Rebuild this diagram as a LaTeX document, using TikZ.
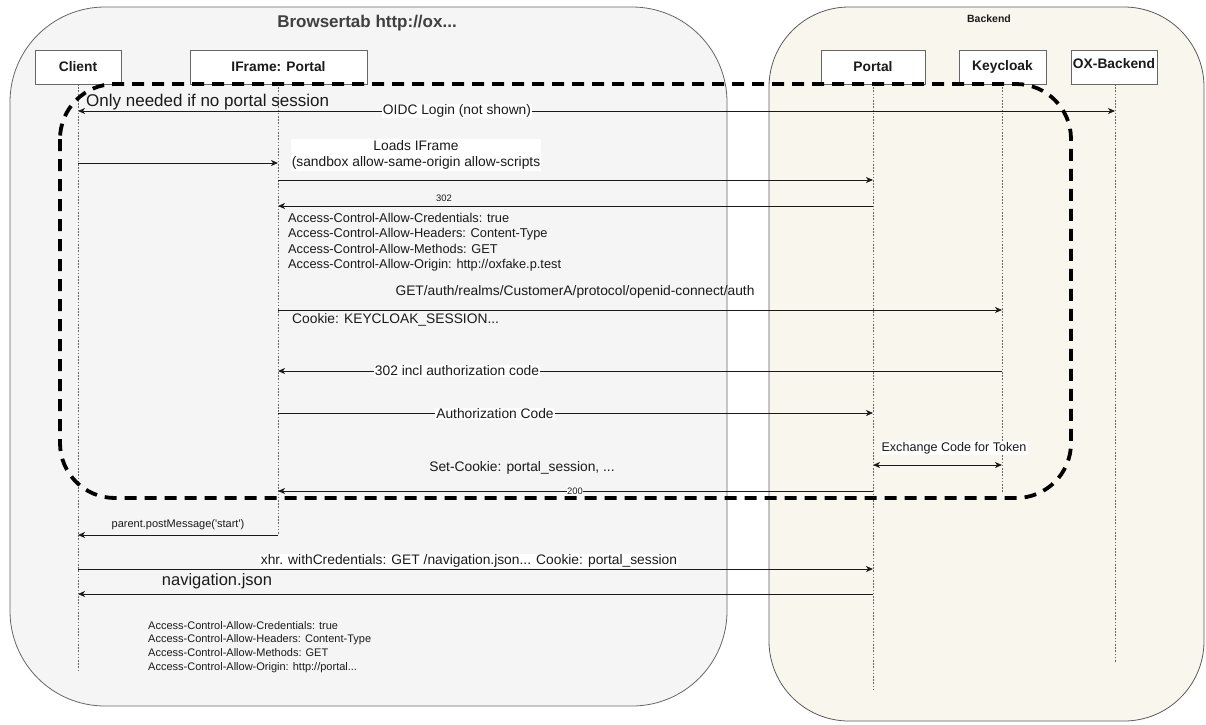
\documentclass[tikz,border=0pt]{standalone}
\usepackage{fontspec}
\setmainfont{Liberation Sans}
\usetikzlibrary{arrows.meta}
\definecolor{tabfill}{HTML}{F5F5F5}
\definecolor{tabline}{HTML}{666666}
\definecolor{bkfill}{HTML}{F9F7ED}
\definecolor{bkline}{HTML}{5A5A5A}
\definecolor{ink}{HTML}{1A1A1A}
\tikzset{
  lifeline/.style={draw=tabline, line width=0.9pt, dash pattern=on 1.6pt off 1.6pt},
  hdr/.style={draw=tabline, fill=white, line width=0.8pt, minimum height=34pt, inner sep=0pt,
    font=\fontsize{13.8}{16}\selectfont\bfseries, text=ink},
  tip/.tip={Stealth[length=7pt,width=6pt,inset=2pt]},
  msg/.style={line width=0.8pt, draw=ink, -tip},
  bimsg/.style={line width=0.8pt, draw=ink, tip-tip},
  lbl/.style={font=\fontsize{13.8}{16.5}\selectfont, inner sep=1pt, text=ink},
  wlbl/.style={lbl, fill=white},
  smalllbl/.style={font=\fontsize{9.4}{11}\selectfont, inner sep=1pt, text=ink},
  corsblock/.style={align=left, anchor=west, inner sep=0pt, text=ink},
  dashbox/.style={draw=black, line width=3.8pt, dash pattern=on 12pt off 8pt, rounded corners=55pt}
}
\begin{document}
\begin{tikzpicture}[x=1pt, y=-1pt]
\useasboundingbox (0,0) rectangle (1206,724);
% containers
\draw[fill=tabfill, draw=tabline, line width=0.8pt, rounded corners=95pt] (10,7) rectangle (727,706);
\draw[fill=bkfill, draw=bkline, line width=0.8pt, rounded corners=80pt] (769,7) rectangle (1204,721);
\node[font=\fontsize{17}{20}\selectfont\bfseries, text=black!75] (tabtitle) at (367,23) {Browsertab http://ox...};
\node[font=\fontsize{10.5}{12}\selectfont\bfseries, text=ink] (bktitle) at (989,19) {Backend};

% headers
\node[hdr, minimum width=86pt] (client) at (78,67) {Client};
\node[hdr, minimum width=177pt] (iframe) at (278.5,67) {IFrame: Portal};
\node[hdr, minimum width=104pt] (portal) at (873,67) {Portal};
\node[hdr, minimum width=87pt] (keycloak) at (1002.5,67) {Keycloak};
\node[hdr, minimum width=86pt, text depth=7pt] (ox) at (1114,67) {OX-Backend};

% lifelines
\coordinate (clientEnd) at (78,672);
\coordinate (iframeEnd) at (278,535);
\coordinate (portalEnd) at (873,689);
\coordinate (keyEnd) at (1002,492);
\coordinate (oxEnd) at (1115,662);
\draw[lifeline] (78,84) -- (clientEnd);
\draw[lifeline] (278,84) -- (iframeEnd);
\draw[lifeline] (873,84) -- (portalEnd);
\draw[lifeline] (1002,84) -- (keyEnd);
\draw[lifeline] (1115,84) -- (oxEnd);

% OIDC
\draw[bimsg] (clientEnd |- 0,111) -- (oxEnd |- 0,111);
\node[wlbl] (oidc) at (457,111) {OIDC Login (not shown)};
\node[font=\fontsize{17}{20}\selectfont, text=ink, anchor=west, inner sep=0pt] (onlyneeded) at (86,102) {Only needed if no portal session};

% Loads IFrame
\draw[msg] (clientEnd |- 0,163) -- (iframeEnd |- 0,163);
\draw[msg] (iframeEnd |- 0,180) -- (portalEnd |- 0,180);
\node[wlbl, align=center, inner xsep=1pt] (loads) at (416,155) {Loads IFrame\\(sandbox allow-same-origin allow-scripts};

% 302
\draw[msg] (portalEnd |- 0,206) -- (iframeEnd |- 0,206);
\node[smalllbl] (l302) at (444,198) {302};
\node[corsblock, font=\fontsize{12.8}{15.4}\selectfont] (cors1) at (288,242)
  {Access-Control-Allow-Credentials: true\\Access-Control-Allow-Headers: Content-Type\\Access-Control-Allow-Methods: GET\\Access-Control-Allow-Origin: http://oxfake.p.test};

% GET auth
\draw[msg] (iframeEnd |- 0,310) -- (keyEnd |- 0,310);
\node[lbl] (getauth) at (575,292) {GET/auth/realms/CustomerA/protocol/openid-connect/auth};
\node[lbl, anchor=west] (cookie) at (291,320) {Cookie: KEYCLOAK\_SESSION...};

% 302 incl authorization code
\draw[msg] (keyEnd |- 0,371) -- (iframeEnd |- 0,371);
\node[wlbl] (code302) at (457,371) {302 incl authorization code};

% Authorization Code
\draw[msg] (iframeEnd |- 0,413) -- (portalEnd |- 0,413);
\node[wlbl] (authcode) at (495,414) {Authorization Code};

% Exchange
\draw[bimsg] (portalEnd |- 0,465) -- (keyEnd |- 0,465);
\node[wlbl, font=\fontsize{12.6}{15}\selectfont] (exchange) at (954,448) {Exchange Code for Token};

% 200 Set-Cookie
\draw[msg] (portalEnd |- 0,491) -- (iframeEnd |- 0,491);
\node[lbl] (setcookie) at (522,468) {Set-Cookie: portal\_session, ...};
\node[smalllbl, fill=white, inner sep=0.5pt] (l200) at (575,491) {200};

% postMessage
\draw[msg] (iframeEnd |- 0,535) -- (clientEnd |- 0,535);
\node[font=\fontsize{11}{13}\selectfont, text=ink, inner sep=0pt] (postmsg) at (178,525) {parent.postMessage(\textquotesingle start\textquotesingle)};

% xhr
\draw[msg] (clientEnd |- 0,569) -- (portalEnd |- 0,569);
\node[wlbl] (xhr) at (469,561) {xhr. withCredentials: GET /navigation.json... Cookie: portal\_session};

% navigation.json
\draw[msg] (portalEnd |- 0,594) -- (clientEnd |- 0,594);
\node[font=\fontsize{16.5}{19}\selectfont, text=ink, inner sep=0pt] (navjson) at (217,581) {navigation.json};

\node[corsblock, font=\fontsize{11}{13.9}\selectfont] (cors2) at (148,647)
  {Access-Control-Allow-Credentials: true\\Access-Control-Allow-Headers: Content-Type\\Access-Control-Allow-Methods: GET\\Access-Control-Allow-Origin: http://portal...};

% dashed optional region
\draw[dashbox] (60,84) rectangle (1071,498);
\end{tikzpicture}
\end{document}
